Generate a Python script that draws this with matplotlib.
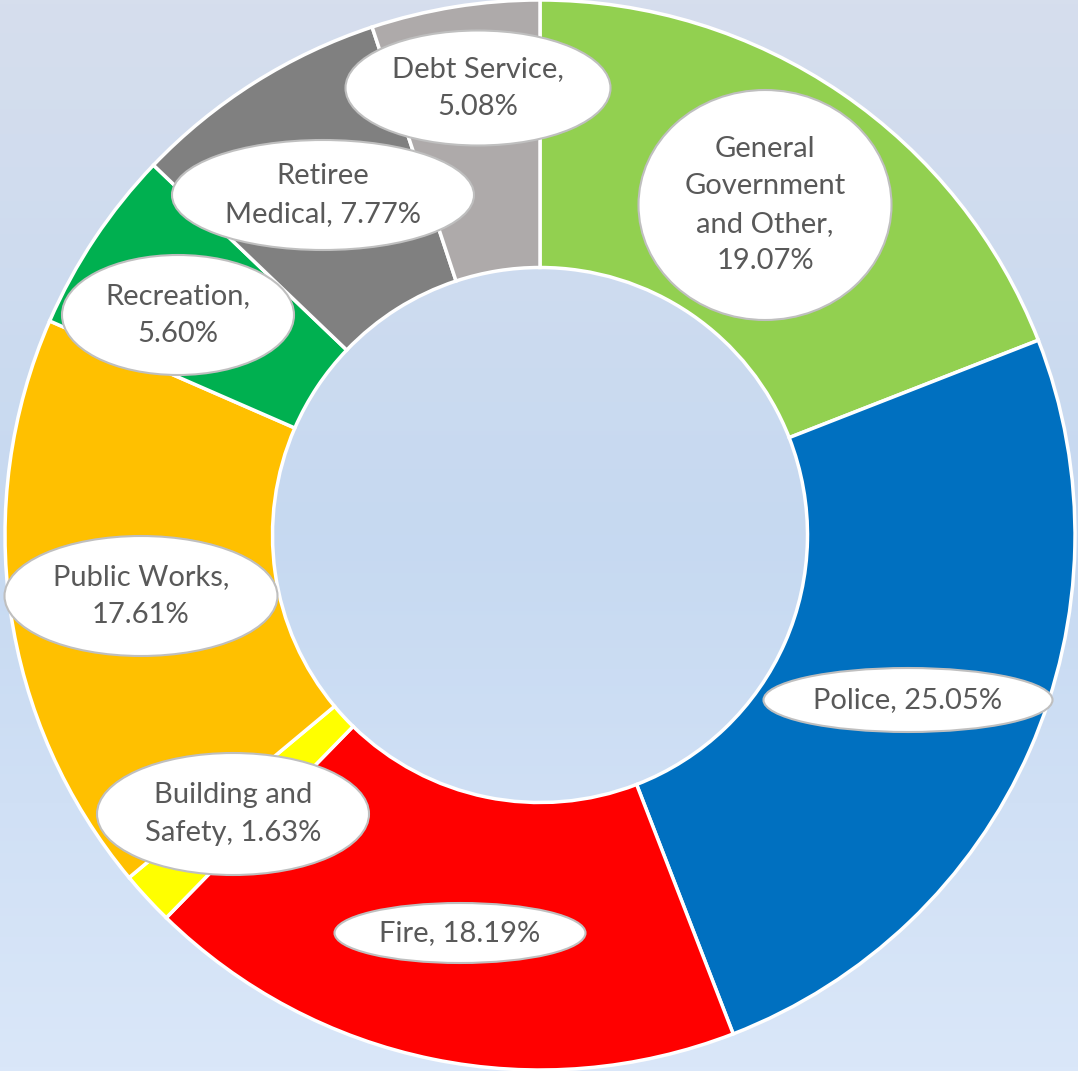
import numpy as np
import matplotlib.pyplot as plt
from matplotlib.patches import Ellipse

# Budget shares (%), clockwise from 12 o'clock
categories = ['General Government and Other', 'Police', 'Fire', 'Building and Safety',
              'Public Works', 'Recreation', 'Retiree Medical', 'Debt Service']
shares = [19.07, 25.05, 18.19, 1.63, 17.61, 5.60, 7.77, 5.08]
colors = ['#92d050', '#0070c0', '#ff0000', '#ffff00', '#ffc000', '#00b050', '#808080', '#aeaaaa']

# label text as printed on the chart
label_texts = ['General\nGovernment\nand Other,\n19.07%', 'Police, 25.05%', 'Fire, 18.19%',
               'Building and\nSafety, 1.63%', 'Public Works,\n17.61%', 'Recreation,\n5.60%',
               'Retiree\nMedical, 7.77%', 'Debt Service,\n5.08%']
# ellipse centre (pixels from top-left) and size
label_pos = [(765, 205), (908, 700), (460, 933), (233, 814), (141, 596), (178, 315), (323, 195), (478, 88)]
label_size = [(253, 230), (289, 64), (251, 60), (272, 122), (273, 120), (232, 120), (302, 110), (265, 115)]

W, H = 1078, 1071
cx, cy = 540, 535
R = 535

fig = plt.figure(figsize=(W / 100, H / 100), dpi=100)

# gradient background
bg = fig.add_axes([0, 0, 1, 1])
top = np.array([214, 222, 237]) / 255
mid = np.array([198, 217, 241]) / 255
bot = np.array([218, 231, 249]) / 255
t = np.linspace(0, 1, 256)[:, None]
grad = np.where(t < 0.5, top + (mid - top) * (t / 0.5), mid + (bot - mid) * ((t - 0.5) / 0.5))
bg.imshow(grad[:, None, :], aspect='auto', extent=[0, 1, 0, 1])
bg.axis('off')

ax = fig.add_axes([0, 0, 1, 1])
ax.patch.set_alpha(0)
ax.pie(shares, colors=colors, startangle=90, counterclock=False, radius=R,
       center=(0, 0), wedgeprops=dict(width=R * 0.5, edgecolor='white', linewidth=2.5))
ax.set_xlim(-cx, W - cx)
ax.set_ylim(-(H - cy), cy)
ax.set_aspect('equal')
ax.axis('off')

for txt, (px, py), (w, h) in zip(label_texts, label_pos, label_size):
    x, y = px - cx, cy - py
    ax.add_patch(Ellipse((x, y), w, h, facecolor='white', edgecolor='#bfbfbf', linewidth=1.5, zorder=5))
    ax.text(x, y, txt, ha='center', va='center', fontsize=21, color='#595959',
            family='Lato', linespacing=1.55, zorder=6)

plt.savefig('out.png', dpi=100)
